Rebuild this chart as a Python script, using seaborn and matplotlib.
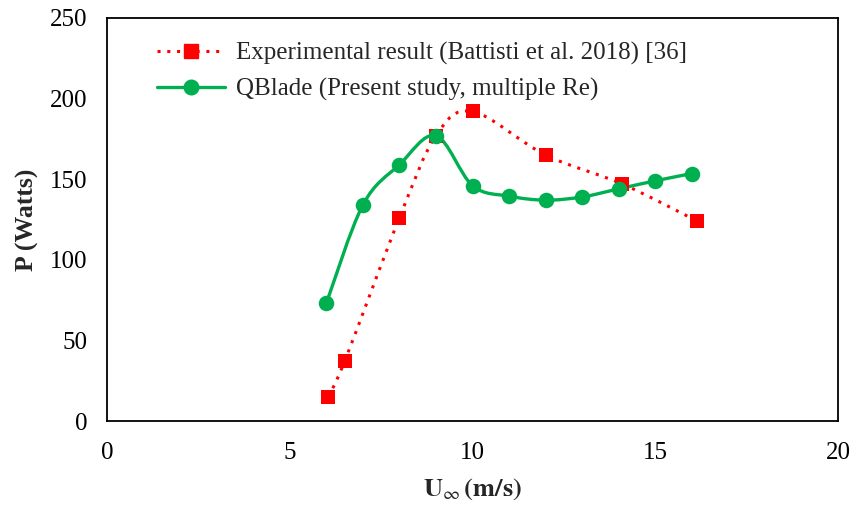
import numpy as np
import pandas as pd
import matplotlib
matplotlib.use("Agg")
import matplotlib.pyplot as plt
import seaborn as sns
from matplotlib.path import Path
from matplotlib.patches import PathPatch
from matplotlib.lines import Line2D

# ---- data ----
exp_u = [6.05, 6.5, 8.0, 9.0, 10.0, 12.0, 14.1, 16.15]
exp_p = [15, 37, 126, 177, 192, 165, 147, 124]
qb_u = [6, 7, 8, 9, 10, 11, 12, 13, 14, 15, 16]
qb_p = [73, 134, 159, 177, 146, 139.5, 137, 139, 144, 149, 153.5]
exp_label = "Experimental result (Battisti et al. 2018) [36]"
qb_label = "QBlade (Present study, multiple Re)"
x_ticks = [0, 5, 10, 15, 20]
y_ticks = [0, 50, 100, 150, 200, 250]

RED = "#FF0000"
GREEN = "#00B050"

sns.set_theme(style="white")
plt.rcParams["font.family"] = ["Liberation Serif", "DejaVu Serif"]
plt.rcParams["mathtext.fontset"] = "stix"

fig = plt.figure(figsize=(8.54, 5.08), dpi=100)
ax = fig.add_axes([107 / 854, 1 - 421 / 508, (838 - 107) / 854, (421 - 18) / 508])


def smooth_path(xs, ys):
    pts = np.column_stack([xs, ys]).astype(float)
    n = len(pts)
    verts = [pts[0]]
    codes = [Path.MOVETO]
    for i in range(n - 1):
        p0 = pts[i - 1] if i > 0 else pts[i]
        p1 = pts[i]
        p2 = pts[i + 1]
        p3 = pts[i + 2] if i + 2 < n else pts[i + 1]
        c1 = p1 + (p2 - p0) / 6.0
        c2 = p2 - (p3 - p1) / 6.0
        verts += [c1, c2, p2]
        codes += [Path.CURVE4] * 3
    return Path(verts, codes)


ax.add_patch(PathPatch(smooth_path(exp_u, exp_p), fill=False, edgecolor=RED,
                       lw=2.2, linestyle=(0, (1, 2.2)), zorder=2))
ax.add_patch(PathPatch(smooth_path(qb_u, qb_p), fill=False, edgecolor=GREEN,
                       lw=2.4, zorder=3))

df_exp = pd.DataFrame({"u": exp_u, "p": exp_p})
df_qb = pd.DataFrame({"u": qb_u, "p": qb_p})
sns.scatterplot(data=df_exp, x="u", y="p", ax=ax, marker="s", s=100,
                color=RED, edgecolor=RED, linewidth=0, zorder=4)
sns.scatterplot(data=df_qb, x="u", y="p", ax=ax, marker="o", s=125,
                color=GREEN, edgecolor=GREEN, linewidth=0, zorder=5)

ax.set_xlim(0, 20)
ax.set_ylim(0, 250)
ax.set_xticks(x_ticks)
ax.set_yticks(y_ticks)
ax.tick_params(axis="both", length=0, labelsize=18, colors="black")
ax.tick_params(axis="x", pad=15)
ax.tick_params(axis="y", pad=14)
for s in ax.spines.values():
    s.set_color("black")
    s.set_linewidth(1.3)

ax.set_xlabel(r"$\mathbf{U}_{\infty}\,\mathbf{(m/s)}$", fontsize=19, labelpad=9)
ax.set_ylabel("P (Watts)", fontsize=18.5, fontweight="bold", labelpad=8)

handles = [
    Line2D([], [], color=RED, lw=2.2, linestyle=(0, (1, 2.2)), marker="s",
           markersize=10, markerfacecolor=RED, markeredgecolor=RED),
    Line2D([], [], color=GREEN, lw=2.4, marker="o", markersize=10.5,
           markerfacecolor=GREEN, markeredgecolor=GREEN),
]
ax.legend(handles, [exp_label, qb_label], loc="upper left",
          bbox_to_anchor=(0.055, 0.965), frameon=False, fontsize=18,
          handlelength=2.7, handletextpad=0.45, labelspacing=0.5,
          borderaxespad=0)

fig.savefig("out.png", dpi=100)
